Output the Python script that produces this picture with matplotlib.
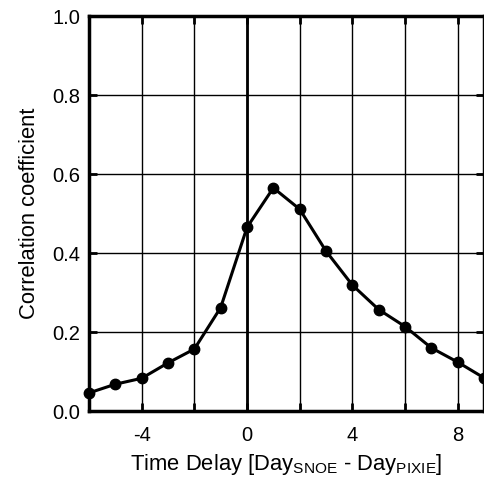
import matplotlib
matplotlib.use("Agg")
from matplotlib import pyplot as plt

plt.rcParams["font.family"] = ["Liberation Sans", "DejaVu Sans"]
plt.rcParams["mathtext.fontset"] = "custom"
plt.rcParams["mathtext.rm"] = "Liberation Sans"
plt.rcParams["mathtext.it"] = "Liberation Sans:italic"

# time delay in days and correlation coefficient
delays = [-6, -5, -4, -3, -2, -1, 0, 1, 2, 3, 4, 5, 6, 7, 8, 9]
correlation = [0.046, 0.068, 0.083, 0.122, 0.157, 0.262, 0.465, 0.565,
               0.511, 0.405, 0.319, 0.257, 0.214, 0.160, 0.124, 0.084]

x_ticks = [-4, -2, 0, 2, 4, 6, 8]
x_tick_labels = ["-4", "", "0", "", "4", "", "8"]
y_ticks = [0.0, 0.2, 0.4, 0.6, 0.8, 1.0]
y_tick_labels = ["0.0", "0.2", "0.4", "0.6", "0.8", "1.0"]

fig = plt.figure(figsize=(4.85, 4.78), dpi=100)
ax = fig.add_axes([0.1835, 0.140, 0.8145, 0.8265])

ax.grid(True, color="black", linewidth=1.0)
ax.set_axisbelow(True)
ax.axvline(0, color="black", linewidth=2.0, zorder=1)

ax.plot(delays, correlation, color="black", linewidth=2.2, marker="o",
        markersize=7.5, zorder=3, clip_on=False)

ax.set_xlim(-6, 9)
ax.set_ylim(0, 1)
ax.set_xticks(x_ticks)
ax.set_xticklabels(x_tick_labels)
ax.set_yticks(y_ticks)
ax.set_yticklabels(y_tick_labels)

ax.tick_params(direction="in", length=6, width=2, labelsize=14.5,
               top=True, right=True)
ax.tick_params(axis="x", pad=10.5)
ax.tick_params(axis="y", pad=6.5)
for spine in ax.spines.values():
    spine.set_linewidth(2.5)

ax.set_xlabel(r"Time Delay [Day$_{\mathrm{SNOE}}$ - Day$_{\mathrm{PIXIE}}$]",
              fontsize=15.8, labelpad=5)
ax.set_ylabel("Correlation coefficient", fontsize=15.8, labelpad=8.5)

fig.savefig("out.png", dpi=100)
